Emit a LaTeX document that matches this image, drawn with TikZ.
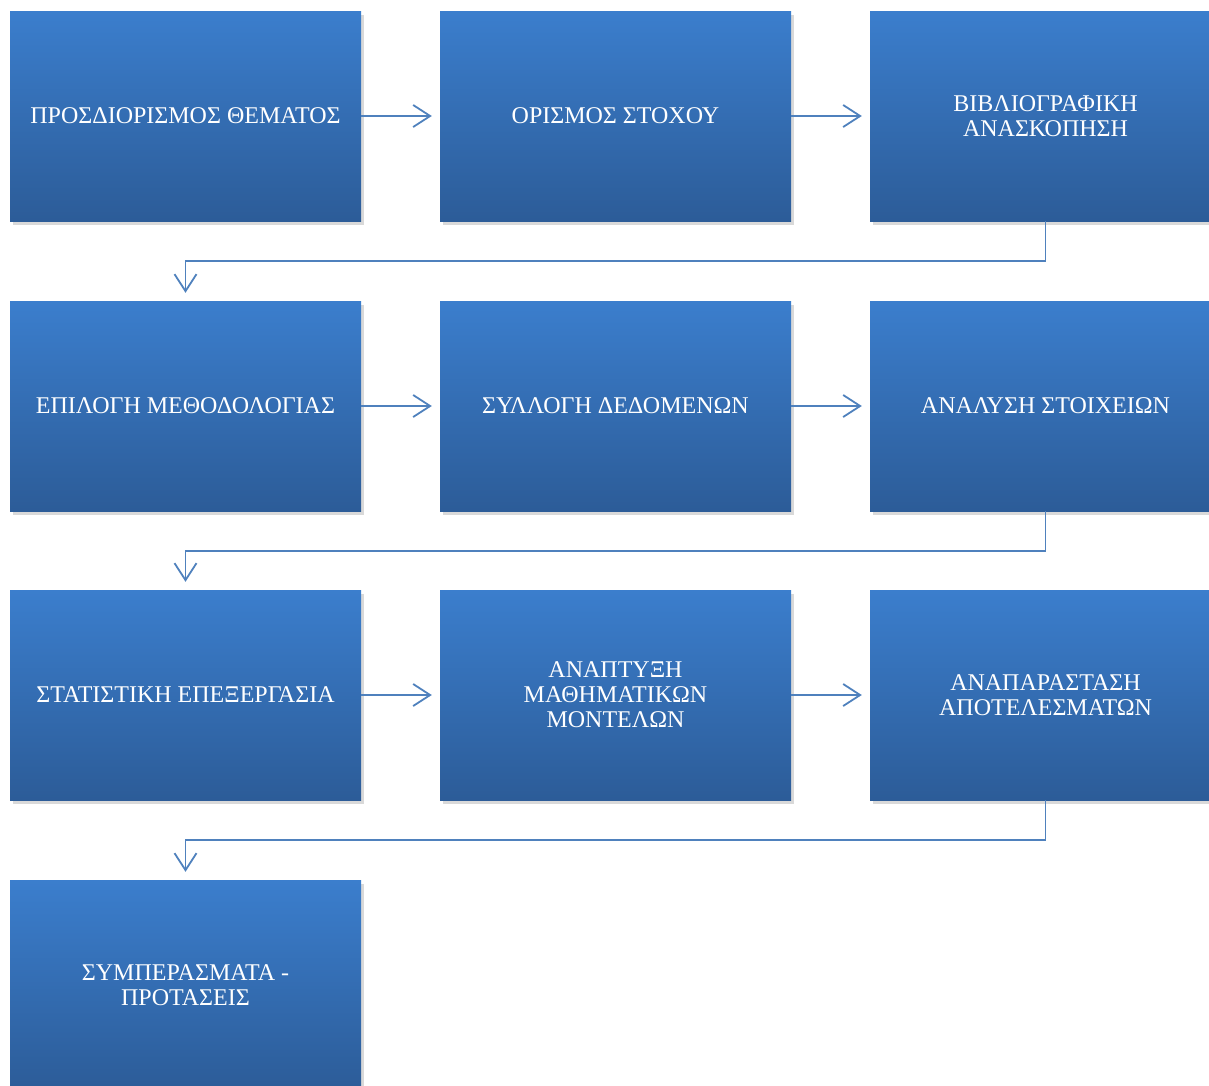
\documentclass[tikz,border=0pt]{standalone}
\usepackage{fontspec}
\setmainfont{Liberation Serif}
\usetikzlibrary{arrows.meta,shadows,positioning}
\definecolor{boxtop}{RGB}{59,126,205}
\definecolor{boxbot}{RGB}{44,92,152}
\definecolor{linkblue}{RGB}{79,129,189}
\tikzstyle{stage}=[
  rectangle, inner sep=0pt, minimum width=351pt, minimum height=210pt,
  top color=boxtop, bottom color=boxbot, text=white, align=center,
  font=\fontsize{24}{25}\selectfont,
  drop shadow={shadow xshift=2.5pt, shadow yshift=-3.5pt, opacity=0.3, fill=black!50}
]
\tikzset{
  link/.style={draw=linkblue, line width=1.8pt, -{Straight Barb[length=17pt,width=22pt]}},
}

\begin{document}
\begin{tikzpicture}[x=1pt,y=-1pt]
        \useasboundingbox (0,0) rectangle (1209,1085);
        \def\gap{8pt}
        % row 1
        \node (s1) at (185.5, 116) [stage] {ΠΡΟΣΔΙΟΡΙΣΜΟΣ ΘΕΜΑΤΟΣ};
        \node (s2) at (615.5, 116) [stage] {ΟΡΙΣΜΟΣ ΣΤΟΧΟΥ};
        \node (s3) at (1045.5, 116) [stage] {ΒΙΒΛΙΟΓΡΑΦΙΚΗ\\ΑΝΑΣΚΟΠΗΣΗ};
        % row 2
        \node (s4) at (185.5, 406) [stage] {ΕΠΙΛΟΓΗ ΜΕΘΟΔΟΛΟΓΙΑΣ};
        \node (s5) at (615.5, 406) [stage] {ΣΥΛΛΟΓΗ ΔΕΔΟΜΕΝΩΝ};
        \node (s6) at (1045.5, 406) [stage] {ΑΝΑΛΥΣΗ ΣΤΟΙΧΕΙΩΝ};
        % row 3
        \node (s7) at (185.5, 695) [stage] {ΣΤΑΤΙΣΤΙΚΗ ΕΠΕΞΕΡΓΑΣΙΑ};
        \node (s8) at (615.5, 695) [stage] {ΑΝΑΠΤΥΞΗ\\ΜΑΘΗΜΑΤΙΚΩΝ\\ΜΟΝΤΕΛΩΝ};
        \node (s9) at (1045.5, 695) [stage] {ΑΝΑΠΑΡΑΣΤΑΣΗ\\ΑΠΟΤΕΛΕΣΜΑΤΩΝ};
        % row 4
        \node (s10) at (185.5, 985) [stage] {ΣΥΜΠΕΡΑΣΜΑΤΑ -\\ΠΡΟΤΑΣΕΙΣ};

        \draw [link] (s1) -- ([xshift=-\gap]s2.west);
        \draw [link] (s2) -- ([xshift=-\gap]s3.west);
        \draw [link] (s3.south) -- ++(0,40) -| ([yshift=\gap]s4.north);
        \draw [link] (s4) -- ([xshift=-\gap]s5.west);
        \draw [link] (s5) -- ([xshift=-\gap]s6.west);
        \draw [link] (s6.south) -- ++(0,40) -| ([yshift=\gap]s7.north);
        \draw [link] (s7) -- ([xshift=-\gap]s8.west);
        \draw [link] (s8) -- ([xshift=-\gap]s9.west);
        \draw [link] (s9.south) -- ++(0,40) -| ([yshift=\gap]s10.north);
\end{tikzpicture}
\end{document}
